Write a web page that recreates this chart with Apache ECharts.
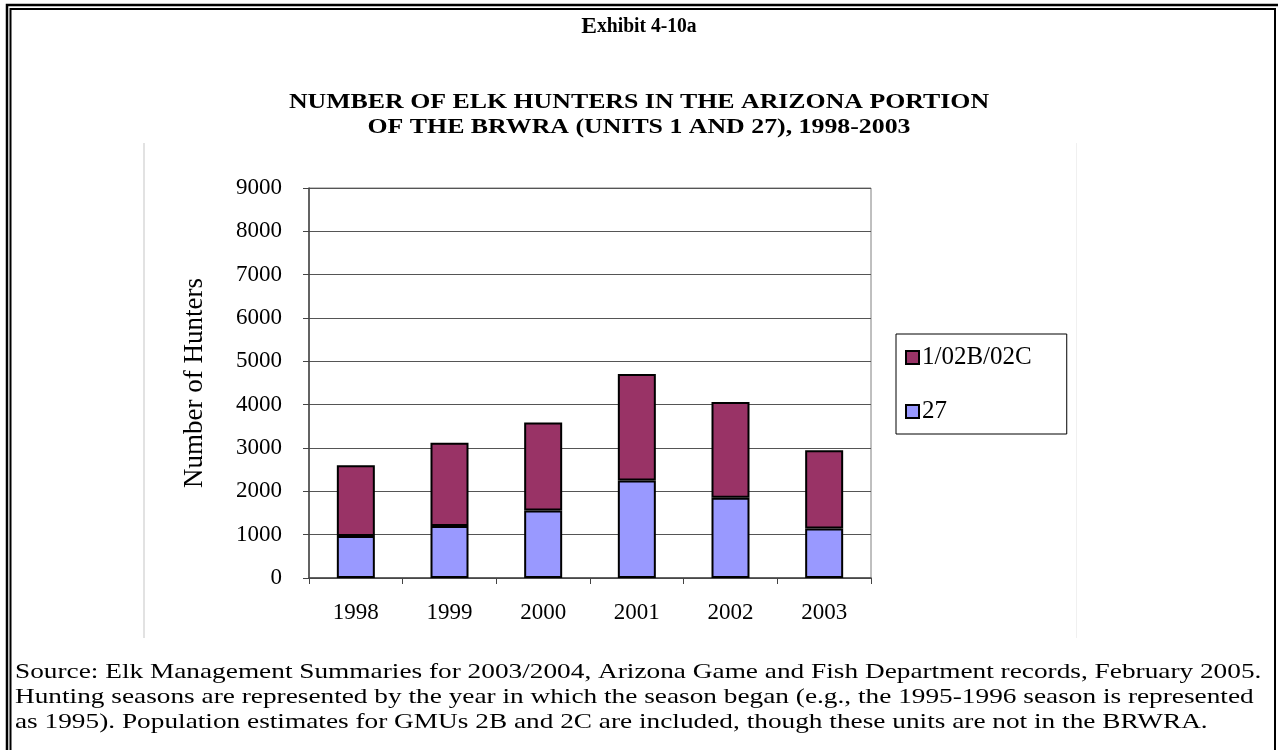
<!DOCTYPE html>
<html>
<head>
<meta charset="utf-8">
<script src="https://cdn.jsdelivr.net/npm/echarts@6/dist/echarts.min.js"></script>
<style>
html,body{margin:0;padding:0;background:#fff;}
#chart{width:1278px;height:750px;}
</style>
</head>
<body>
<div id="chart"></div>
<script>
const years = ['1998','1999','2000','2001','2002','2003'];
const unit27 = [970, 1200, 1555, 2250, 1850, 1145];
const unit1 = [1630, 1920, 2035, 2460, 2210, 1805];
const seriesNames = ['1/02B/02C', '27'];
const yTicks = { min: 0, max: 9000, interval: 1000 };
const titleLines = ['NUMBER OF ELK HUNTERS IN THE ARIZONA PORTION', 'OF THE BRWRA (UNITS 1 AND 27), 1998-2003'];
const footLines = [
  'Source: Elk Management Summaries for 2003/2004, Arizona Game and Fish Department records, February 2005.',
  'Hunting seasons are represented by the year in which the season began (e.g., the 1995-1996 season is represented',
  'as 1995). Population estimates for GMUs 2B and 2C are included, though these units are not in the BRWRA.'
];

const serif = '"Liberation Serif", "Times New Roman", serif';
const chart = echarts.init(document.getElementById('chart'));

const graphics = [
  { type: 'rect', shape: { x: 7, y: 5, width: 1300, height: 800 }, style: { fill: 'none', stroke: '#000', lineWidth: 2.5 }, silent: true },
  { type: 'rect', shape: { x: 10.5, y: 9, width: 1264.5, height: 800 }, style: { fill: 'none', stroke: '#000', lineWidth: 2 }, silent: true },
  { type: 'line', shape: { x1: 144, y1: 143, x2: 144, y2: 638 }, style: { stroke: '#d9d9d9', lineWidth: 1.5 }, silent: true },
  { type: 'line', shape: { x1: 1076.5, y1: 143, x2: 1076.5, y2: 638 }, style: { stroke: '#f0f0f0', lineWidth: 1 }, silent: true },
  { type: 'text', x: 639, y: 27, scaleX: 0.98, style: {
      text: '{a|E}{b|xhibit 4-10a}',
      align: 'center', verticalAlign: 'middle',
      rich: {
        a: { fontFamily: serif, fontWeight: 'bold', fontSize: 24, fill: '#000' },
        b: { fontFamily: serif, fontWeight: 'bold', fontSize: 20, fill: '#000' }
      } } }
];
titleLines.forEach((t, i) => {
  graphics.push({ type: 'text', x: 639, y: 103 + i * 25, scaleX: 1.23,
    style: { text: t, align: 'center', verticalAlign: 'middle', fontFamily: serif, fontWeight: 'bold', fontSize: 21, fill: '#000' } });
});
footLines.forEach((t, i) => {
  graphics.push({ type: 'text', x: 15, y: 672 + i * 25, scaleX: 1.30,
    style: { text: t, align: 'left', verticalAlign: 'middle', fontFamily: serif, fontSize: 21, fill: '#000' } });
});

chart.setOption({
  animation: false,
  backgroundColor: '#fff',
  textStyle: { fontFamily: serif },
  grid: { left: 309, right: 407, top: 188, bottom: 172, show: true, borderColor: '#808080', borderWidth: 1, backgroundColor: 'transparent' },
  legend: {
    orient: 'vertical',
    left: 896, top: 334,
    data: seriesNames,
    itemWidth: 13, itemHeight: 13, itemGap: 29,
    icon: 'rect',
    padding: [11, 35, 10, 9],
    borderColor: '#000', borderWidth: 1,
    textStyle: { fontFamily: serif, fontSize: 25, color: '#000', padding: [0, 0, 0, -2] }
  },
  xAxis: {
    type: 'category',
    data: years,
    axisLine: { lineStyle: { color: '#444', width: 1.5 } },
    axisTick: { show: true, length: 6, lineStyle: { color: '#444' } },
    axisLabel: { fontFamily: serif, fontSize: 23, color: '#000', margin: 23 }
  },
  yAxis: {
    type: 'value',
    min: yTicks.min, max: yTicks.max, interval: yTicks.interval,
    name: 'Number of Hunters',
    nameLocation: 'middle',
    nameGap: 101,
    nameTextStyle: { fontFamily: serif, fontSize: 27, color: '#000' },
    axisLine: { show: true, lineStyle: { color: '#444', width: 1.5 } },
    axisTick: { show: true, length: 6, lineStyle: { color: '#444' } },
    axisLabel: { fontFamily: serif, fontSize: 23, color: '#000', margin: 27, formatter: v => String(v) },
    splitLine: { lineStyle: { color: '#555', width: 1 } }
  },
  series: [
    { name: '27', type: 'bar', stack: 'total', data: unit27, barWidth: 38,
      itemStyle: { color: '#9999FF', borderColor: '#000', borderWidth: 2 } },
    { name: '1/02B/02C', type: 'bar', stack: 'total', data: unit1, barWidth: 38,
      itemStyle: { color: '#993366', borderColor: '#000', borderWidth: 2 } }
  ],
  graphic: graphics
});
</script>
</body>
</html>
